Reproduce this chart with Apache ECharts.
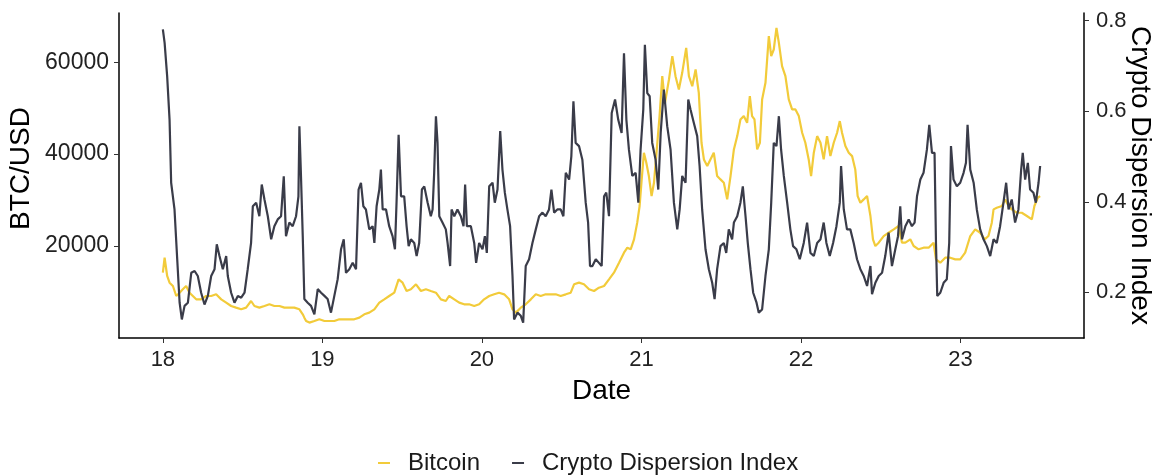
<!DOCTYPE html>
<html>
<head>
<meta charset="utf-8">
<script src="https://cdn.jsdelivr.net/npm/echarts@6/dist/echarts.min.js"></script>
<style>
  html, body { margin: 0; padding: 0; background: #fff; }
  #chart { width: 1158px; height: 475px; }
</style>
</head>
<body>
<div id="chart"></div>
<script>
// x values are fractional years (18 = start of 2018)
var btcDates = [18.000, 18.011, 18.027, 18.042, 18.063, 18.084, 18.105, 18.125, 18.146, 18.167, 18.188, 18.209, 18.240, 18.271, 18.303, 18.334, 18.366, 18.397, 18.428, 18.459, 18.491, 18.522, 18.553, 18.574, 18.605, 18.637, 18.668, 18.699, 18.731, 18.762, 18.793, 18.824, 18.856, 18.877, 18.887,
  18.898, 18.919, 18.950, 18.981, 19.013, 19.044, 19.075, 19.106, 19.138, 19.169, 19.200, 19.232, 19.263, 19.294, 19.326, 19.357, 19.388, 19.419, 19.451, 19.478, 19.503, 19.528, 19.555, 19.587, 19.618, 19.649, 19.680, 19.712, 19.743, 19.774,
  19.795, 19.827, 19.858, 19.889, 19.920, 19.952, 19.983, 20.014, 20.046, 20.077, 20.108, 20.140, 20.171, 20.192, 20.213, 20.244, 20.275, 20.307, 20.338, 20.369, 20.400, 20.432, 20.463, 20.494, 20.526, 20.557, 20.578, 20.609, 20.640, 20.672,
  20.703, 20.734, 20.766, 20.797, 20.828, 20.860, 20.891, 20.912, 20.933, 20.954, 20.974, 20.989, 21.002, 21.016, 21.031, 21.047, 21.064, 21.079, 21.100, 21.114, 21.131, 21.148, 21.173, 21.194, 21.214, 21.235, 21.256, 21.281, 21.298, 21.319, 21.340, 21.360, 21.377, 21.392, 21.413, 21.433, 21.454, 21.475, 21.496, 21.517, 21.538, 21.559,
  21.580, 21.601, 21.621, 21.642, 21.663, 21.680, 21.694, 21.709, 21.726, 21.743, 21.757, 21.778, 21.799, 21.814, 21.830, 21.847, 21.862, 21.882, 21.903, 21.924, 21.945, 21.966, 21.987, 22.008, 22.028, 22.049, 22.064, 22.081, 22.102, 22.123, 22.143, 22.164, 22.185, 22.206, 22.227, 22.244, 22.258, 22.279, 22.300, 22.321, 22.341, 22.356, 22.373, 22.394, 22.415, 22.436, 22.452, 22.467, 22.488,
  22.519, 22.550, 22.582, 22.613, 22.634, 22.655, 22.686, 22.707, 22.738, 22.769, 22.801, 22.832, 22.847, 22.874, 22.905, 22.936, 22.968, 22.999, 23.030, 23.062, 23.093, 23.124, 23.152, 23.176, 23.197, 23.208, 23.228, 23.260, 23.281, 23.302, 23.322, 23.354, 23.385, 23.417, 23.448, 23.464, 23.485, 23.500];
var btcValues = [14210, 17480, 13490, 12040, 11310, 9140, 9860, 10590, 11310, 9860, 9140, 8410, 8410, 9140, 9140, 9500, 8410, 7690, 6960, 6600, 6240, 6600, 8050, 6960, 6600, 6960, 7330, 6960, 6960, 6600, 6600, 6600, 6240, 5150, 4430,
  3700, 3350, 3700, 4070, 3700, 3700, 3700, 4070, 4070, 4070, 4070, 4430, 5150, 5520, 6240, 7690, 8410, 9140, 9860, 12760, 12040, 10220, 10590, 11680, 10220, 10590, 10220, 9860, 8410, 8050,
  9140, 8410, 7690, 7330, 7330, 6960, 7330, 8410, 9140, 9500, 9860, 9500, 8410, 6240, 5520, 6600, 7330, 8410, 9500, 9140, 9500, 9500, 9500, 9140, 9500, 9860, 11680, 12040, 11680, 10590,
  10220, 10940, 11310, 12760, 14210, 16380, 18560, 19650, 19290, 21460, 25090, 28710, 34500, 40300, 38130, 35230, 30880, 33780, 42470, 48270, 56960, 51170, 56240, 61310, 56960, 54060, 57690, 63120, 56960, 54780, 58410, 53330, 42470, 38850, 37400, 38850, 40300, 35230, 34500, 33780, 30150, 35230,
  41020, 43920, 47540, 48270, 46820, 52620, 48270, 47540, 41020, 42470, 51890, 55510, 65660, 61310, 62760, 67470, 64210, 59140, 56960, 51890, 49720, 49720, 48270, 44650, 42470, 38850, 35230, 40300, 43920, 42470, 38850, 43920, 39570, 42470, 44650, 47180, 44650, 41750, 40300, 39570, 36670, 30880, 29430, 30150, 30880, 26540, 21460, 20010, 20740,
  22180, 22900, 23630, 24360, 20740, 20740, 21460, 20010, 19290, 19650, 19650, 20740, 17110, 16380, 17470, 17470, 17110, 17110, 18560, 22180, 23630, 22900, 21460, 22180, 25090, 27980, 28340, 28710, 30150, 28710, 27980, 27250, 27250, 26540, 25810, 28710, 30510, 30870];

var cdiDates = [18.000, 18.011, 18.027, 18.042, 18.052, 18.073, 18.090, 18.105, 18.119, 18.136, 18.157, 18.178, 18.199, 18.219, 18.240, 18.261, 18.282, 18.303, 18.324, 18.338, 18.355, 18.376, 18.397, 18.407, 18.428, 18.449, 18.470, 18.491, 18.512, 18.532, 18.553, 18.564, 18.585, 18.605, 18.620, 18.637, 18.658, 18.679, 18.699, 18.720, 18.741, 18.758, 18.772, 18.793, 18.814, 18.835, 18.850, 18.856, 18.866, 18.877, 18.887,
  18.908, 18.929, 18.950, 18.971, 18.992, 19.013, 19.033, 19.054, 19.075, 19.096, 19.117, 19.134, 19.148, 19.169, 19.190, 19.211, 19.227, 19.242, 19.257, 19.273, 19.294, 19.315, 19.326, 19.340, 19.357, 19.367, 19.378, 19.399, 19.419, 19.440, 19.455, 19.465, 19.478, 19.493, 19.513, 19.528, 19.541, 19.555, 19.576, 19.591, 19.607, 19.624, 19.639, 19.660, 19.680, 19.691, 19.701, 19.712, 19.722, 19.733, 19.753, 19.774,
  19.785, 19.801, 19.810, 19.827, 19.847, 19.868, 19.885, 19.895, 19.906, 19.931, 19.952, 19.964, 19.983, 20.004, 20.019, 20.031, 20.046, 20.067, 20.081, 20.098, 20.115, 20.129, 20.144, 20.160, 20.177, 20.192, 20.202, 20.223, 20.244, 20.259, 20.275, 20.296, 20.317, 20.338, 20.359, 20.380, 20.400, 20.421, 20.436, 20.453, 20.473, 20.494, 20.511, 20.526, 20.547, 20.561, 20.574, 20.588, 20.609, 20.630, 20.651, 20.666, 20.678,
  20.693, 20.714, 20.734, 20.751, 20.766, 20.780, 20.797, 20.814, 20.835, 20.855, 20.876, 20.891, 20.906, 20.922, 20.943, 20.964, 20.981, 20.995, 21.012, 21.022, 21.037, 21.052, 21.068, 21.089, 21.106, 21.121, 21.141, 21.162, 21.183, 21.204, 21.225, 21.240, 21.256, 21.277, 21.294, 21.308, 21.329, 21.350, 21.365, 21.381, 21.402, 21.423, 21.444, 21.459, 21.475, 21.496, 21.517, 21.532, 21.548, 21.569,
  21.580, 21.601, 21.621, 21.636, 21.653, 21.667, 21.684, 21.701, 21.722, 21.736, 21.757, 21.778, 21.799, 21.814, 21.830, 21.847, 21.862, 21.876, 21.893, 21.914, 21.934, 21.951, 21.972, 21.993, 22.018, 22.039, 22.060, 22.081, 22.102, 22.123, 22.143, 22.160, 22.181, 22.202, 22.223, 22.244, 22.252, 22.269, 22.289, 22.310, 22.331, 22.352, 22.373, 22.394, 22.415, 22.436, 22.446, 22.467, 22.488,
  22.509, 22.529, 22.550, 22.571, 22.592, 22.609, 22.623, 22.634, 22.655, 22.676, 22.696, 22.713, 22.728, 22.749, 22.769, 22.790, 22.805, 22.822, 22.838, 22.847, 22.855, 22.874, 22.895, 22.915, 22.930, 22.941, 22.957, 22.978, 22.999, 23.020, 23.035, 23.045, 23.062, 23.083, 23.103, 23.124, 23.145, 23.166, 23.187, 23.208, 23.228, 23.249, 23.270, 23.287, 23.302, 23.322, 23.343, 23.364, 23.381, 23.391, 23.406, 23.423, 23.437, 23.458, 23.473, 23.490, 23.500];
var cdiValues = [0.781, 0.751, 0.677, 0.581, 0.442, 0.383, 0.273, 0.177, 0.140, 0.170, 0.177, 0.243, 0.247, 0.236, 0.199, 0.173, 0.192, 0.236, 0.251, 0.306, 0.280, 0.251, 0.280, 0.236, 0.199, 0.177, 0.192, 0.188, 0.199, 0.251, 0.309, 0.390, 0.398, 0.368, 0.438, 0.405, 0.368, 0.317, 0.346, 0.361, 0.368, 0.456, 0.324, 0.354, 0.346, 0.368, 0.412, 0.567, 0.456, 0.324, 0.185,
  0.177, 0.170, 0.151, 0.207, 0.199, 0.192, 0.185, 0.155, 0.192, 0.229, 0.295, 0.317, 0.243, 0.251, 0.265, 0.251, 0.427, 0.442, 0.390, 0.383, 0.339, 0.346, 0.309, 0.390, 0.427, 0.471, 0.383, 0.383, 0.346, 0.324, 0.295, 0.398, 0.548, 0.412, 0.412, 0.346, 0.302, 0.317, 0.309, 0.280, 0.309, 0.427, 0.434, 0.398, 0.368, 0.383, 0.464, 0.589, 0.530, 0.368, 0.354, 0.339,
  0.309, 0.258, 0.383, 0.368, 0.383, 0.368, 0.346, 0.438, 0.346, 0.346, 0.309, 0.265, 0.309, 0.295, 0.324, 0.287, 0.434, 0.442, 0.398, 0.427, 0.556, 0.471, 0.420, 0.383, 0.346, 0.236, 0.140, 0.155, 0.148, 0.133, 0.258, 0.273, 0.309, 0.339, 0.368, 0.376, 0.368, 0.383, 0.427, 0.376, 0.383, 0.383, 0.368, 0.464, 0.449, 0.501, 0.622, 0.530, 0.523, 0.493, 0.398, 0.354, 0.258,
  0.258, 0.273, 0.265, 0.258, 0.412, 0.420, 0.368, 0.596, 0.626, 0.581, 0.552, 0.728, 0.581, 0.515, 0.457, 0.464, 0.398, 0.515, 0.604, 0.747, 0.640, 0.633, 0.530, 0.493, 0.427, 0.552, 0.648, 0.567, 0.515, 0.398, 0.339, 0.383, 0.457, 0.442, 0.626, 0.604, 0.574, 0.545, 0.479, 0.383, 0.295, 0.251, 0.221, 0.185, 0.251, 0.302, 0.309, 0.287, 0.339, 0.317,
  0.354, 0.368, 0.398, 0.434, 0.368, 0.309, 0.251, 0.199, 0.177, 0.155, 0.162, 0.236, 0.295, 0.398, 0.530, 0.523, 0.589, 0.515, 0.457, 0.398, 0.339, 0.302, 0.295, 0.273, 0.309, 0.354, 0.287, 0.280, 0.309, 0.317, 0.354, 0.309, 0.280, 0.309, 0.346, 0.398, 0.479, 0.383, 0.339, 0.339, 0.309, 0.273, 0.251, 0.236, 0.214, 0.258, 0.196, 0.221, 0.236,
  0.243, 0.280, 0.332, 0.258, 0.295, 0.324, 0.390, 0.317, 0.346, 0.361, 0.346, 0.354, 0.412, 0.449, 0.464, 0.515, 0.570, 0.508, 0.508, 0.309, 0.192, 0.199, 0.221, 0.229, 0.309, 0.523, 0.449, 0.434, 0.442, 0.464, 0.486, 0.570, 0.471, 0.442, 0.383, 0.339, 0.317, 0.302, 0.280, 0.317, 0.309, 0.346, 0.398, 0.442, 0.383, 0.405, 0.354, 0.383, 0.471, 0.508, 0.449, 0.486, 0.427, 0.420, 0.398, 0.442, 0.479];

var yearTicks = [18, 19, 20, 21, 22, 23];
var btcTicks = [20000, 40000, 60000];
var cdiTicks = [0.2, 0.4, 0.6, 0.8];

function pairs(xs, ys) {
  var out = [];
  for (var i = 0; i < xs.length; i++) {
    out.push([xs[i], ys[i]]);
  }
  return out;
}

var font = 'Liberation Sans, Arial, Helvetica, sans-serif';
var chart = echarts.init(document.getElementById('chart'));

var option = {
  animation: false,
  backgroundColor: '#fff',
  grid: { left: 119, right: 74, top: 13, bottom: 137, outerBoundsMode: 'none' },
  legend: {
    top: 446,
    left: 373,
    icon: 'rect',
    itemWidth: 12,
    itemHeight: 2,
    itemGap: 32,
    textStyle: { fontFamily: font, fontSize: 24, color: '#1a1a1a', padding: [0, 0, 0, 13] },
    data: ['Bitcoin', 'Crypto Dispersion Index']
  },
  xAxis: {
    type: 'value',
    min: 17.725,
    max: 23.775,
    name: 'Date',
    nameLocation: 'middle',
    nameGap: 39,
    nameMoveOverlap: false,
    nameTextStyle: { fontFamily: font, fontSize: 28, color: '#000' },
    axisLine: { lineStyle: { color: '#000', width: 1.5 } },
    axisTick: { customValues: yearTicks, length: 5, lineStyle: { color: '#333' } },
    axisLabel: { customValues: yearTicks, margin: 11, fontFamily: font, fontSize: 22, color: '#222' },
    splitLine: { show: false }
  },
  yAxis: [{
    type: 'value',
    min: 0,
    max: 70700,
    name: 'BTC/USD',
    nameLocation: 'middle',
    nameGap: 84,
    nameMoveOverlap: false,
    nameTextStyle: { fontFamily: font, fontSize: 28, color: '#000', padding: [0, 0, 0, 14] },
    axisLine: { show: true, lineStyle: { color: '#000', width: 1.5 } },
    axisTick: { show: true, customValues: btcTicks, length: 5, lineStyle: { color: '#333' } },
    axisLabel: {
      customValues: btcTicks, margin: 10, fontFamily: font, fontSize: 23, color: '#222',
      formatter: function (v) { return String(v); }
    },
    splitLine: { show: false }
  }, {
    type: 'value',
    position: 'right',
    min: 0.099,
    max: 0.817,
    name: 'Crypto Dispersion Index',
    nameLocation: 'middle',
    nameRotate: -90,
    nameGap: 42,
    nameMoveOverlap: false,
    nameTextStyle: { fontFamily: font, fontSize: 28, color: '#000' },
    axisLine: { show: true, lineStyle: { color: '#000', width: 1.5 } },
    axisTick: { show: true, customValues: cdiTicks, length: 5, lineStyle: { color: '#333' } },
    axisLabel: {
      customValues: cdiTicks, margin: 12, fontFamily: font, fontSize: 22, color: '#222',
      formatter: function (v) { return v.toFixed(1); }
    },
    splitLine: { show: false }
  }],
  series: [{
    name: 'Bitcoin',
    type: 'line',
    yAxisIndex: 0,
    data: pairs(btcDates, btcValues),
    showSymbol: false,
    color: '#f2cb3a',
    lineStyle: { width: 2.2, color: '#f2cb3a' }
  }, {
    name: 'Crypto Dispersion Index',
    type: 'line',
    yAxisIndex: 1,
    data: pairs(cdiDates, cdiValues),
    showSymbol: false,
    color: '#3a3c49',
    lineStyle: { width: 2.2, color: '#3a3c49' }
  }]
};

chart.setOption(option);
</script>
</body>
</html>
